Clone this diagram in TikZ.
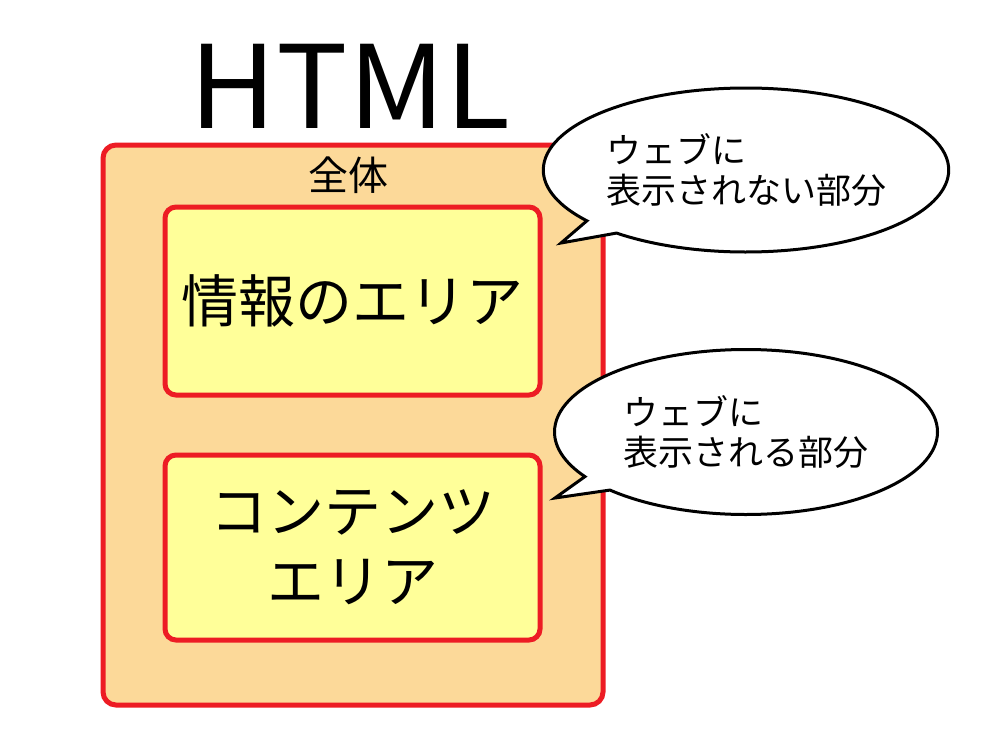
\documentclass[tikz,border=0pt]{standalone}
\usepackage{fontspec}
\setmainfont{Noto Sans CJK JP}
\usetikzlibrary{shapes.callouts}
\definecolor{boxred}{RGB}{237,28,36}
\definecolor{outerfill}{RGB}{252,217,153}
\definecolor{innerfill}{RGB}{255,255,153}
\tikzset{
    outer-box/.style = {draw=boxred, fill=outerfill, line width=5pt, rectangle, rounded corners=13pt, minimum width=500pt, minimum height=560pt},
    inner-box/.style = {draw=boxred, fill=innerfill, line width=5pt, rectangle, rounded corners=11pt, minimum width=375pt, align=center, font=\fontsize{57}{70}\selectfont},
    speech-bubble/.style = {draw=black, fill=white, line width=3pt, ellipse callout, callout pointer arc=12, align=left, font=\fontsize{35}{40}\selectfont},
}
\begin{document}
\begin{tikzpicture}[x=1pt, y=-1pt]
\useasboundingbox (0,0) rectangle (1000,750);
\node [font=\fontsize{115}{115}\selectfont, xscale=1.04] (title) at (350,86) {HTML};
\node [outer-box] (whole) at (353,425) {};
\node [font=\fontsize{40}{40}\selectfont] (whole-label) at (348,175) {全体};
\node [inner-box, minimum height=188pt] (info) at (352.5,301) {情報のエリア};
\node [inner-box, minimum height=185pt] (content) at (352.5,547.5) {コンテンツ\\エリア};
\node [speech-bubble, minimum width=397pt, minimum height=164pt, callout absolute pointer={(561,243)}] (hidden) at (746,170) {ウェブに\\表示されない部分};
\node [speech-bubble, minimum width=383pt, minimum height=165pt, callout absolute pointer={(555,498)}] (shown) at (746,432) {ウェブに\\表示される部分};
\end{tikzpicture}
\end{document}
